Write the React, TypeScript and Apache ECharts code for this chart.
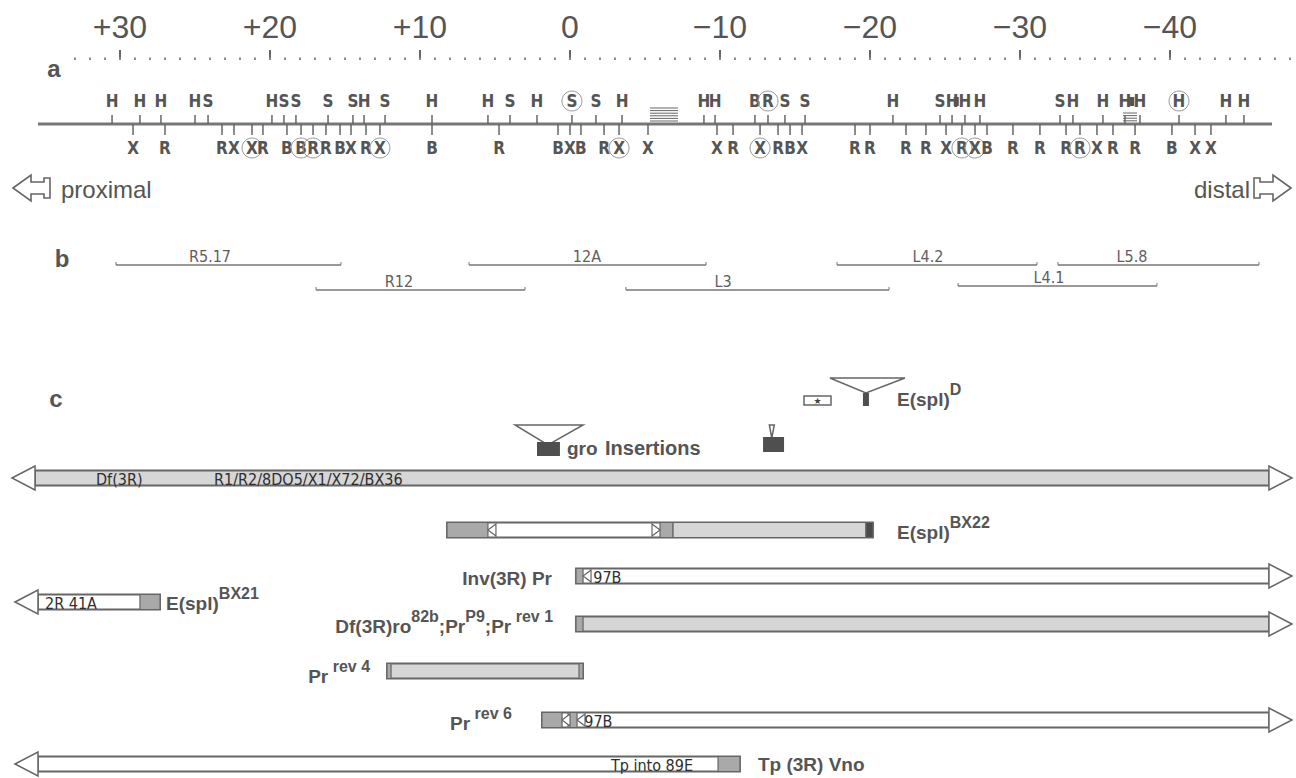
import React, { useEffect, useRef } from 'react';
import * as echarts from 'echarts';

// ---------------- data (kb coordinates; 0 = origin, + proximal, - distal) ----------------
const axisMin = -48;
const axisMax = 33;
const majorTicks = [30, 20, 10, 0, -10, -20, -30, -40];

// a: restriction map
const mapSpan = [35.47, -46.8];
// [position kb, enzyme, circled]
const sitesAbove: [number, string, number][] = [
  [30.53, 'H', 0], [28.67, 'H', 0], [27.27, 'H', 0], [25.0, 'H', 0], [24.13, 'S', 0],
  [19.87, 'H', 0], [19.07, 'S', 0], [18.27, 'S', 0], [16.13, 'S', 0], [14.47, 'S', 0], [13.73, 'H', 0], [12.33, 'S', 0],
  [9.2, 'H', 0], [5.47, 'H', 0], [4.0, 'S', 0], [2.2, 'H', 0], [-0.13, 'S', 1], [-1.73, 'S', 0], [-3.47, 'H', 0],
  [-8.93, 'H', 0], [-9.67, 'H', 0], [-12.33, 'B', 0], [-13.2, 'R', 1], [-14.33, 'S', 0], [-15.67, 'S', 0],
  [-21.53, 'H', 0], [-24.67, 'S', 0], [-25.47, 'H', 0], [-26.33, 'H', 0], [-27.33, 'H', 0],
  [-32.67, 'S', 0], [-33.53, 'H', 0], [-35.53, 'H', 0], [-37.0, 'H', 0], [-38.0, 'H', 0], [-40.6, 'H', 1],
  [-43.73, 'H', 0], [-44.93, 'H', 0],
];
const sitesBelow: [number, string, number][] = [
  [29.13, 'X', 0], [27.0, 'R', 0], [23.2, 'R', 0], [22.4, 'X', 0], [21.2, 'X', 1], [20.47, 'R', 0],
  [18.87, 'B', 0], [17.93, 'B', 1], [17.13, 'R', 1], [16.27, 'R', 0], [15.33, 'B', 0], [14.6, 'X', 0], [13.6, 'R', 0], [12.67, 'X', 1],
  [9.2, 'B', 0], [4.73, 'R', 0], [0.8, 'B', 0], [0.0, 'X', 0], [-0.73, 'B', 0], [-2.27, 'R', 0], [-3.27, 'X', 1], [-5.2, 'X', 0],
  [-9.8, 'X', 0], [-10.87, 'R', 0], [-12.67, 'X', 1], [-13.87, 'R', 0], [-14.67, 'B', 0], [-15.47, 'X', 0],
  [-19.0, 'R', 0], [-20.0, 'R', 0], [-22.4, 'R', 0], [-23.73, 'R', 0], [-25.07, 'X', 0], [-26.13, 'R', 1], [-27.0, 'X', 1],
  [-27.8, 'B', 0], [-29.53, 'R', 0], [-31.33, 'R', 0], [-33.07, 'R', 0], [-34.0, 'R', 1], [-35.13, 'X', 0], [-36.2, 'R', 0],
  [-37.67, 'R', 0], [-40.13, 'B', 0], [-41.67, 'X', 0], [-42.73, 'X', 0],
];
const repeatFrom = [-5.33, -36.87];
const repeatTo = [-7.2, -37.8];
const blockMarks = [-25.75, -37.45];

// b: cloned segments
const cloneNames = ['R5.17', 'R12', '12A', 'L3', 'L4.2', 'L5.8', 'L4.1'];
const cloneFrom = [30.27, 16.93, 6.73, -3.73, -17.8, -32.53, -25.87];
const cloneTo = [15.27, 3.0, -9.07, -21.27, -31.13, -45.93, -39.13];
const cloneLevel = [0, 1, 0, 1, 0, 0, 2];
const cloneLabelAt = [24.0, 11.4, -1.13, -10.2, -23.87, -37.47, -31.93];

// c: rearrangements
const lesionFrom = [37.2, 8.2, -0.4, 37.0, -0.4, 12.2, 1.87, 37.0];
const lesionTo = [-48.13, -20.2, -48.13, 27.33, -48.13, -0.87, -48.13, -11.33];
const lesionArrowL = [1, 0, 0, 1, 0, 0, 0, 1];
const lesionArrowR = [1, 0, 1, 0, 1, 0, 1, 0];
const lesionBase = ['light', 'white', 'white', 'white', 'light', 'light', 'white', 'white'];
const lesionLabels = [
  '',
  '{t|E(spl)}{s|BX22}',
  '{t|Inv(3R) Pr}',
  '{t|E(spl)}{s|BX21}',
  '{t|Df(3R)ro}{s|82b}{t|;Pr}{s|P9}{t|;Pr}{s| rev 1}',
  '{t|Pr}{s| rev 4}',
  '{t|Pr}{s| rev 6}',
  '{t|Tp (3R) Vno}',
];
const lesionLabelAt = [0, -21.8, 1.2, 26.93, 1.13, 13.33, 3.87, -12.53];
const lesionLabelAlign = ['left', 'left', 'right', 'left', 'right', 'right', 'right', 'left'];
// [lesion index, from, to, fill kind]
const patches: [number, number, number, string][] = [
  [1, 8.2, 5.47, 'dark'], [1, -6.0, -6.87, 'dark'], [1, -6.87, -19.73, 'light'], [1, -19.73, -20.2, 'solid'],
  [2, -0.4, -0.87, 'dark'],
  [3, 28.67, 27.33, 'dark'],
  [4, -0.4, -0.87, 'dark'],
  [5, 12.2, 11.93, 'dark'], [5, -0.6, -0.87, 'dark'],
  [6, 1.87, 0.53, 'dark'], [6, 0.13, -0.47, 'dark'],
  [7, -9.87, -11.33, 'dark'],
];
// [lesion index, tip position, direction]
const chevrons: [number, number, string][] = [
  [1, 5.47, 'L'], [1, -6.0, 'R'], [2, -0.87, 'L'], [6, 0.53, 'L'], [6, -0.47, 'L'],
];
// [lesion index, left position, text]
const barTexts: [number, number, string][] = [
  [0, 31.6, 'Df(3R)'], [0, 23.73, 'R1/R2/8DO5/X1/X72/BX36'],
  [2, -1.55, '97B'], [3, 35.0, '2R 41A'], [6, -0.95, '97B'], [7, -2.73, 'Tp into 89E'],
];
// insertions: gro (2) and E(spl)D
const insertLeft = [3.67, -13.29, -17.33];
const insertRight = [-0.87, -13.62, -22.33];
const insertApex = [1.47, -13.45, -19.73];
const insertBodyFrom = [2.2, -12.87, -19.53];
const insertBodyTo = [0.67, -14.27, -19.93];
const starBox = [-15.6, -17.4];
const espDLabelAt = -21.8;

// ---------------- layout / style ----------------
const FONT = '"Liberation Sans", Arial, Helvetica, sans-serif';
const NARROW = '"Liberation Sans Narrow", "Arial Narrow", "DejaVu Sans Condensed", "Liberation Sans", sans-serif';
const INK = '#555';
const STROKE = '#666';
const FILL: Record<string, string> = { white: '#fff', light: '#d6d6d6', dark: '#a9a9a9', solid: '#4a4a4a' };
const MAP_Y = 124;
const CLONE_Y = [265, 290, 286];
const LESION_Y = [478, 530, 576, 602, 624, 671, 720, 764];
const LABEL_DY = [0, 12, 12, 11, 12, 15, 13, 10];
const INSERT_Y = [
  { top: 425, apex: 445, b0: 442, b1: 456 },
  { top: 425, apex: 438, b0: 437, b1: 452 },
  { top: 378, apex: 393, b0: 393, b1: 406 },
];
const REPEAT_TOP = [108, 113];
const BAR_H = 15;
const AH = 23;
const AW = 12;
const GRID = { left: 75, right: 6, top: 60, bottom: 20 };

const xOf = (api: any, v: number) => api.coord([v, 0])[0];

function txt(text: string, x: number, y: number, font: string, align = 'center', vAlign = 'middle', fill = INK, extra: any = {}) {
  return {
    type: 'text',
    style: { text, x, y, font, fill, align, verticalAlign: vAlign, textAlign: align, textVerticalAlign: vAlign, ...extra },
  };
}

function custom(data: any[], renderItem: any, z = 2) {
  return { type: 'custom', coordinateSystem: 'cartesian2d', xAxisIndex: 0, yAxisIndex: 0, data, renderItem, clip: false, silent: true, z };
}

const richLabel = {
  t: { fontSize: 19, fontWeight: 'bold', fontFamily: FONT, fill: INK, color: INK, verticalAlign: 'bottom' },
  s: { fontSize: 16, fontWeight: 'bold', fontFamily: FONT, fill: INK, color: INK, verticalAlign: 'bottom', padding: [0, 0, 12, 0] },
};

function buildOption() {
  const series: any[] = [];

  // main restriction-map line
  series.push(custom([[mapSpan[0], 0]], (p: any, api: any) => ({
    type: 'line',
    shape: { x1: xOf(api, mapSpan[0]), y1: MAP_Y, x2: xOf(api, mapSpan[1]), y2: MAP_Y },
    style: { stroke: '#777', lineWidth: 3 },
  })));

  const siteSeries = (sites: [number, string, number][], above: boolean) =>
    custom(sites.map((s) => [s[0], 0]), (p: any, api: any) => {
      const [pos, lab, circ] = sites[p.dataIndex];
      const x = xOf(api, pos);
      const yEnd = above ? MAP_Y - 9 : MAP_Y + 11;
      const ly = above ? 101 : 148;
      const ch: any[] = [
        { type: 'line', shape: { x1: x, y1: MAP_Y, x2: x, y2: yEnd }, style: { stroke: STROKE, lineWidth: 1.5 } },
        txt(lab, x, ly, `bold 17px ${NARROW}`),
      ];
      if (circ) ch.push({ type: 'circle', shape: { cx: x, cy: ly, r: 10 }, style: { fill: 'none', stroke: '#9a9a9a', lineWidth: 1 } });
      return { type: 'group', children: ch };
    }, 3);
  series.push(siteSeries(sitesAbove, true));
  series.push(siteSeries(sitesBelow, false));

  // repeats (hatched stacks)
  series.push(custom(repeatFrom.map((v) => [v, 0]), (p: any, api: any) => {
    const i = p.dataIndex;
    const x1 = xOf(api, repeatFrom[i]);
    const x2 = xOf(api, repeatTo[i]);
    const ch: any[] = [];
    for (let y = REPEAT_TOP[i]; y < MAP_Y - 1.5; y += 2.6) {
      ch.push({ type: 'line', shape: { x1, y1: y, x2, y2: y }, style: { stroke: STROKE, lineWidth: 1 } });
    }
    return { type: 'group', children: ch };
  }));
  series.push(custom(blockMarks.map((v) => [v, 0]), (p: any, api: any) => {
    const x = xOf(api, blockMarks[p.dataIndex]);
    return { type: 'rect', shape: { x: x - 2.5, y: 97, width: 5, height: 9 }, style: { fill: '#555' } };
  }));

  // b: clones
  series.push(custom(cloneFrom.map((v) => [v, 0]), (p: any, api: any) => {
    const i = p.dataIndex;
    const y = CLONE_Y[cloneLevel[i]];
    const x1 = xOf(api, cloneFrom[i]);
    const x2 = xOf(api, cloneTo[i]);
    return {
      type: 'group',
      children: [
        { type: 'line', shape: { x1, y1: y, x2, y2: y }, style: { stroke: '#777', lineWidth: 1.5 } },
        { type: 'line', shape: { x1, y1: y - 3, x2: x1, y2: y }, style: { stroke: '#777', lineWidth: 1 } },
        { type: 'line', shape: { x1: x2, y1: y - 3, x2, y2: y }, style: { stroke: '#777', lineWidth: 1 } },
        txt(cloneNames[i], xOf(api, cloneLabelAt[i]), y - 9, `16px ${NARROW}`, 'center', 'middle', '#5e5e5e'),
      ],
    };
  }));

  // c: lesion bars
  series.push(custom(lesionFrom.map((v) => [v, 0]), (p: any, api: any) => {
    const i = p.dataIndex;
    const y = LESION_Y[i];
    const x1 = xOf(api, lesionFrom[i]);
    const x2 = xOf(api, lesionTo[i]);
    const bx1 = lesionArrowL[i] ? x1 + AH : x1;
    const bx2 = lesionArrowR[i] ? x2 - AH : x2;
    const ch: any[] = [
      { type: 'rect', shape: { x: bx1, y: y - BAR_H / 2, width: bx2 - bx1, height: BAR_H }, style: { fill: FILL[lesionBase[i]], stroke: STROKE, lineWidth: 1.8 } },
    ];
    if (lesionArrowL[i]) ch.push({ type: 'polygon', shape: { points: [[x1, y], [bx1, y - AW], [bx1, y + AW]] }, style: { fill: '#fff', stroke: STROKE, lineWidth: 1.5 } });
    if (lesionArrowR[i]) ch.push({ type: 'polygon', shape: { points: [[x2, y], [bx2, y - AW], [bx2, y + AW]] }, style: { fill: '#fff', stroke: STROKE, lineWidth: 1.5 } });
    if (lesionLabels[i]) {
      ch.push({
        type: 'text',
        style: {
          text: lesionLabels[i], x: xOf(api, lesionLabelAt[i]), y: y + LABEL_DY[i],
          align: lesionLabelAlign[i], textAlign: lesionLabelAlign[i], verticalAlign: 'bottom', textVerticalAlign: 'bottom',
          rich: richLabel, fill: INK,
          font: `bold 19px ${FONT}`,
        },
      });
    }
    return { type: 'group', children: ch };
  }, 2));

  series.push(custom(patches.map((q) => [q[1], 0]), (p: any, api: any) => {
    const [li, a, b, kind] = patches[p.dataIndex];
    const y = LESION_Y[li];
    const x1 = xOf(api, a);
    const x2 = xOf(api, b);
    return {
      type: 'rect',
      shape: { x: x1, y: y - BAR_H / 2, width: x2 - x1, height: BAR_H },
      style: { fill: FILL[kind], stroke: STROKE, lineWidth: 1.2 },
    };
  }, 3));

  series.push(custom(chevrons.map((c) => [c[1], 0]), (p: any, api: any) => {
    const [li, pos, dir] = chevrons[p.dataIndex];
    const y = LESION_Y[li];
    const x = xOf(api, pos);
    const bx = dir === 'L' ? x + 8 : x - 8;
    return {
      type: 'polygon',
      shape: { points: [[x, y], [bx, y - 6], [bx, y + 6]] },
      style: { fill: '#fff', stroke: STROKE, lineWidth: 1.2 },
    };
  }, 4));

  series.push(custom(barTexts.map((t) => [t[1], 0]), (p: any, api: any) => {
    const [li, pos, s] = barTexts[p.dataIndex];
    return txt(s, xOf(api, pos), LESION_Y[li] + 1, `16px ${NARROW}`, 'left', 'middle', '#2e2e2e');
  }, 5));

  // insertions
  series.push(custom(insertApex.map((v) => [v, 0]), (p: any, api: any) => {
    const i = p.dataIndex;
    const L = INSERT_Y[i];
    const xl = xOf(api, insertLeft[i]);
    const xr = xOf(api, insertRight[i]);
    const xa = xOf(api, insertApex[i]);
    const b0 = xOf(api, insertBodyFrom[i]);
    const b1 = xOf(api, insertBodyTo[i]);
    return {
      type: 'group',
      children: [
        { type: 'polygon', shape: { points: [[xl, L.top], [xr, L.top], [xa, L.apex]] }, style: { fill: 'none', stroke: STROKE, lineWidth: 1.5 } },
        { type: 'rect', shape: { x: b0, y: L.b0, width: b1 - b0, height: L.b1 - L.b0 }, style: { fill: '#4f4f4f' } },
      ],
    };
  }, 3));

  // E(spl)D element box with star, and label
  series.push(custom([[starBox[0], 0]], (p: any, api: any) => {
    const x1 = xOf(api, starBox[0]);
    const x2 = xOf(api, starBox[1]);
    return {
      type: 'group',
      children: [
        { type: 'rect', shape: { x: x1, y: 396, width: x2 - x1, height: 9 }, style: { fill: '#fff', stroke: STROKE, lineWidth: 1.5 } },
        txt('★', (x1 + x2) / 2, 401, `9px "DejaVu Sans", sans-serif`, 'center', 'middle', '#444'),
        {
          type: 'text',
          style: {
            text: '{t|E(spl)}{s|D}', x: xOf(api, espDLabelAt), y: 409, align: 'left', textAlign: 'left',
            verticalAlign: 'bottom', textVerticalAlign: 'bottom', rich: richLabel, fill: INK, font: `bold 19px ${FONT}`,
          },
        },
      ],
    };
  }, 3));

  const fmt = (v: number) => (v > 0 ? `+${v}` : v < 0 ? `\u2212${Math.abs(v)}` : '0');

  const proxArrow = [[13, 188], [31, 175], [31, 182], [44, 182], [44, 178], [50, 178], [50, 198], [44, 198], [44, 194], [31, 194], [31, 201]];
  const distArrow = proxArrow.map(([x, y]) => [1304 - x, y]);
  const plain = (x: number, y: number, text: string, font: string, align: string) => ({
    type: 'text', x, y,
    style: { text, font, fill: INK, align, verticalAlign: 'middle', textAlign: align, textVerticalAlign: 'middle' },
  });

  return {
    animation: false,
    backgroundColor: '#ffffff',
    grid: [{ ...GRID }, { ...GRID }],
    xAxis: [
      {
        gridIndex: 0, type: 'value', position: 'top', inverse: true, min: axisMin, max: axisMax,
        axisLine: { show: false, onZero: false }, splitLine: { show: false },
        axisTick: { show: true, customValues: majorTicks, length: 10, lineStyle: { color: STROKE, width: 2 } },
        axisLabel: { show: true, customValues: majorTicks, formatter: fmt, margin: 17, fontSize: 32, color: INK, fontFamily: FONT },
      },
      {
        gridIndex: 1, type: 'value', position: 'top', inverse: true, min: axisMin, max: axisMax, interval: 1,
        axisLine: { show: false, onZero: false }, axisLabel: { show: false }, splitLine: { show: false },
        axisTick: { show: true, inside: false, length: 2.5, lineStyle: { color: '#8a8a8a', width: 2 } },
      },
    ],
    yAxis: [
      { gridIndex: 0, type: 'value', min: 0, max: 1, show: false },
      { gridIndex: 1, type: 'value', min: 0, max: 1, show: false },
    ],
    series,
    graphic: [
      plain(54, 68, 'a', `bold 24px ${FONT}`, 'center'),
      plain(62, 258, 'b', `bold 24px ${FONT}`, 'center'),
      plain(56, 398, 'c', `bold 24px ${FONT}`, 'center'),
      { type: 'polygon', shape: { points: proxArrow }, style: { fill: '#fff', stroke: STROKE, lineWidth: 1.6 } },
      { type: 'polygon', shape: { points: distArrow }, style: { fill: '#fff', stroke: STROKE, lineWidth: 1.6 } },
      plain(61, 189, 'proximal', `24px ${FONT}`, 'left'),
      plain(1250, 189, 'distal', `24px ${FONT}`, 'right'),
      plain(567, 448, 'gro', `bold 19px ${FONT}`, 'left'),
      plain(605, 448, 'Insertions', `bold 20px ${FONT}`, 'left'),
    ],
  };
}

export default function App() {
  const ref = useRef<HTMLDivElement>(null);
  useEffect(() => {
    if (!ref.current) return;
    const chart = echarts.init(ref.current, undefined, { renderer: 'svg' });
    chart.setOption(buildOption() as any);
    return () => chart.dispose();
  }, []);
  return <div ref={ref} style={{ position: 'fixed', left: 0, top: 0, width: 1296, height: 778, background: '#fff' }} />;
}
